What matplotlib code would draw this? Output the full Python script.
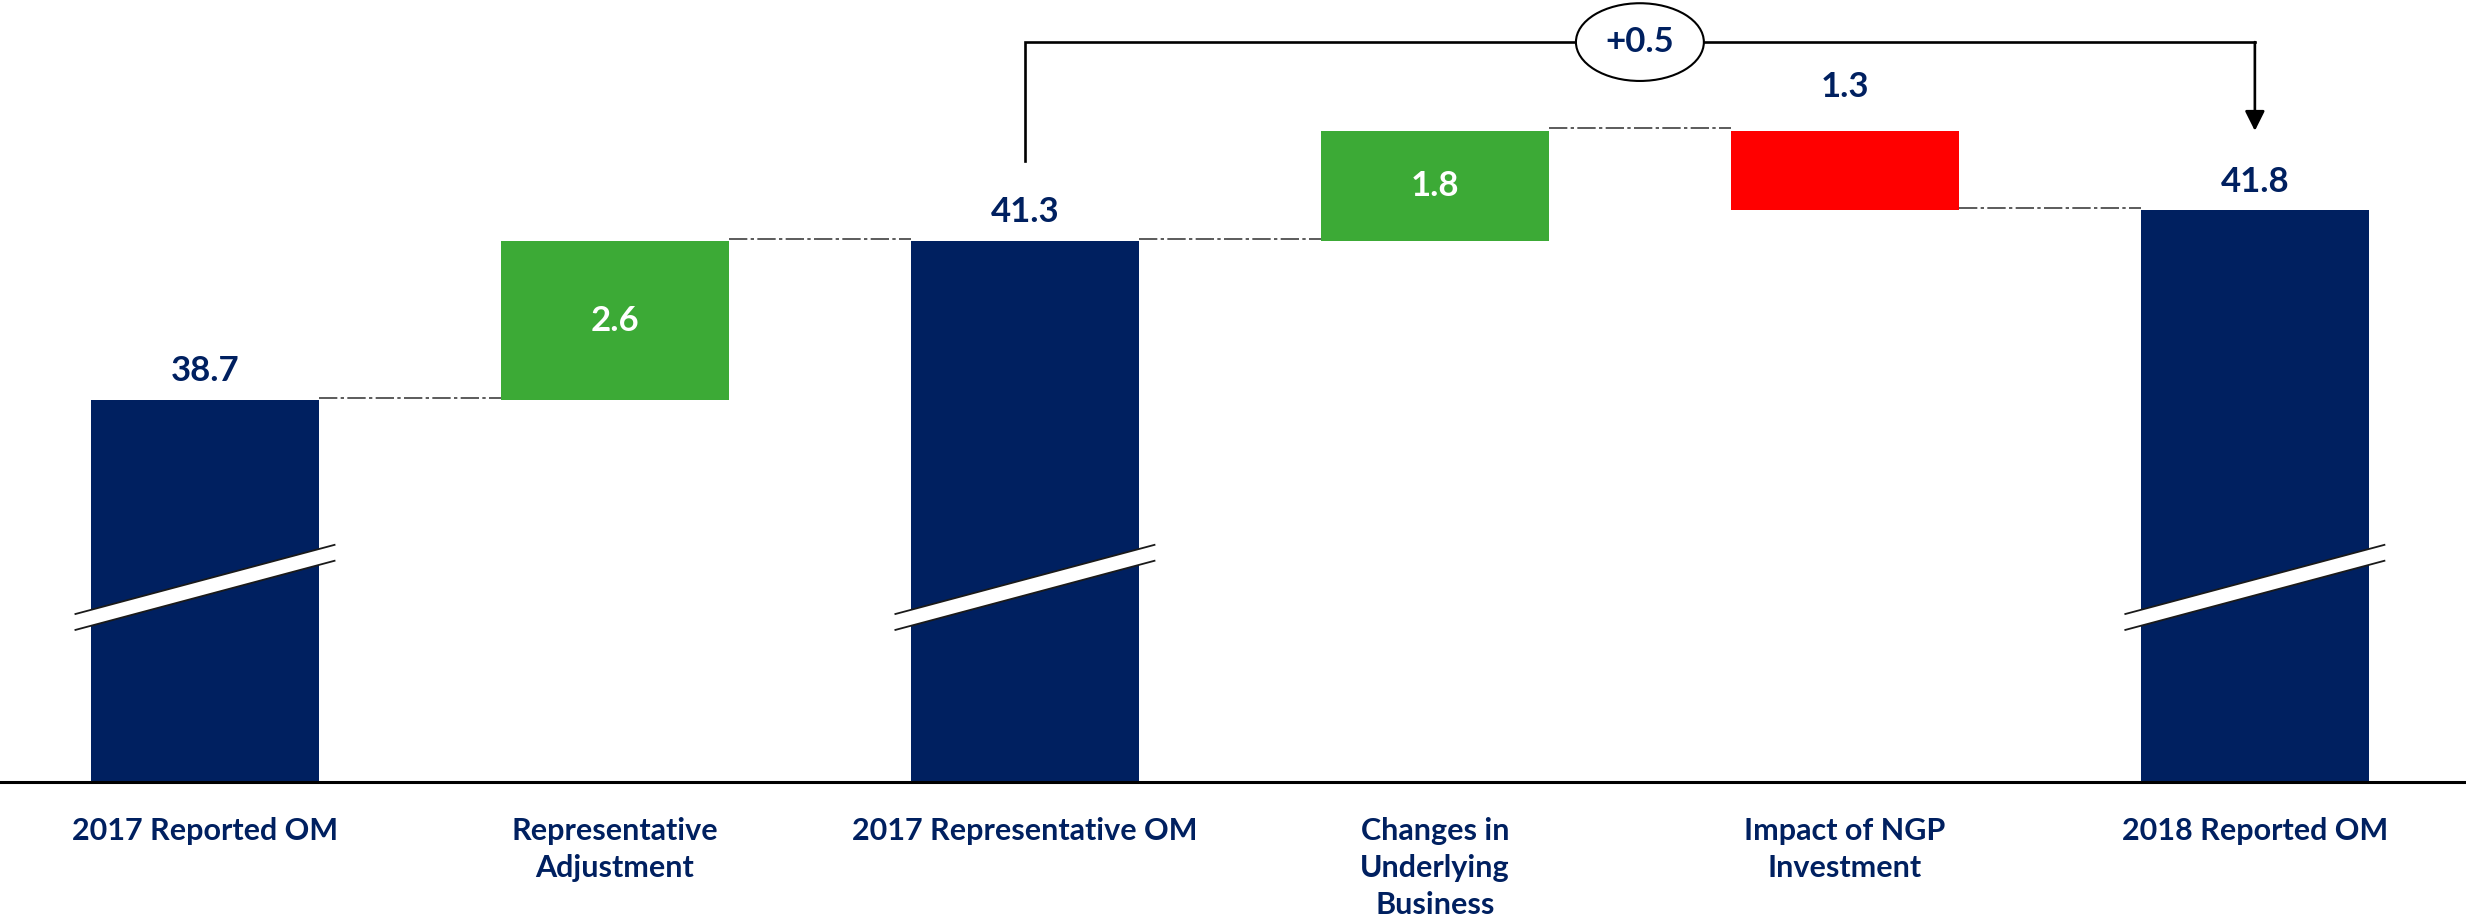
import numpy as np
import matplotlib
matplotlib.use("Agg")
import matplotlib.pyplot as plt
from matplotlib.patches import Ellipse, Polygon

plt.rcParams['font.family'] = ['Lato', 'DejaVu Sans']

# data
categories = ['2017 Reported OM', 'Representative\nAdjustment', '2017 Representative OM',
              'Changes in\nUnderlying\nBusiness', 'Impact of NGP\nInvestment', '2018 Reported OM']
values = [38.7, 2.6, 41.3, 1.8, -1.3, 41.8]
kinds = ['total', 'delta', 'total', 'delta', 'delta', 'total']

navy = '#002060'
green = '#3CAA36'
red = '#FF0000'
grey = '#3f3f3f'

y_base = 32.46          # visual floor of the broken axis
px_per_unit = 61.2
bar_w = 0.556

# running totals -> bottoms / tops
bottoms, tops = [], []
run = 0.0
for v, k in zip(values, kinds):
    if k == 'total':
        bottoms.append(y_base)
        tops.append(v)
        run = v
    else:
        lo, hi = sorted([run, run + v])
        bottoms.append(lo)
        tops.append(hi)
        run = run + v

colors = []
for v, k in zip(values, kinds):
    if k == 'total':
        colors.append(navy)
    elif v >= 0:
        colors.append(green)
    else:
        colors.append(red)

fig = plt.figure(figsize=(24.66, 9.19), dpi=100)
ax = fig.add_axes([0, (919 - 782) / 919, 1, 782 / 919])
x = np.arange(len(values))
ax.bar(x, np.array(tops) - np.array(bottoms), bottom=bottoms, width=bar_w,
       color=colors, zorder=2)
ax.set_xlim(-0.5, 5.515)
ax.set_ylim(y_base, y_base + 782 / px_per_unit)

# connectors between bars
run = 0.0
levels = []
for v, k in zip(values, kinds):
    run = v if k == 'total' else run + v
    levels.append(run)
for i in range(len(values) - 1):
    ax.plot([x[i] + bar_w / 2, x[i + 1] - bar_w / 2], [levels[i] + 0.04] * 2,
            color=grey, lw=1.2, linestyle=(0, (11, 2, 2, 2)), zorder=1)

# value labels
for i, (v, k) in enumerate(zip(values, kinds)):
    txt = f'{abs(v):.1f}'
    if k == 'total':
        ax.annotate(txt, (x[i], tops[i]), xytext=(0, 13.5), textcoords='offset points',
                    ha='center', va='baseline', fontsize=25, fontweight='bold', color=navy)
    elif v >= 0:
        ax.text(x[i], (tops[i] + bottoms[i]) / 2, txt, ha='center', va='center',
                fontsize=25, fontweight='bold', color='white', zorder=3)
    else:
        ax.annotate(txt, (x[i], tops[i]), xytext=(0, 24), textcoords='offset points',
                    ha='center', va='baseline', fontsize=25, fontweight='bold', color=navy)

# axis break marks on the total bars
half = 0.316
rise = 1.13
gap = 0.13
brk_mid = 35.64
for i, k in enumerate(kinds):
    if k != 'total':
        continue
    xl, xr = x[i] - half, x[i] + half
    yl, yr = brk_mid - rise / 2, brk_mid + rise / 2
    poly = Polygon([[xl, yl + gap], [xr, yr + gap], [xr, yr - gap], [xl, yl - gap]],
                   closed=True, facecolor='white', edgecolor='none', zorder=4)
    ax.add_patch(poly)
    ax.plot([xl, xr], [yl + gap, yr + gap], color='#1a1a1a', lw=1.3, zorder=5)
    ax.plot([xl, xr], [yl - gap, yr - gap], color='#1a1a1a', lw=1.3, zorder=5)

# bracket from 2017 representative to 2018 reported
i0, i1 = 2, 5
y_top = max(levels) + 1.45
ax.plot([x[i0], x[i0], x[i1]], [values[i0] + 1.3, y_top, y_top], color='black',
        lw=1.9, solid_joinstyle='miter', zorder=3, clip_on=False)
ax.annotate('', xy=(x[i1], values[i1] + 1.3), xytext=(x[i1], y_top),
            arrowprops=dict(arrowstyle='-|>,head_length=0.6,head_width=0.3', color='black',
                            lw=1.9, shrinkA=0, shrinkB=0, mutation_scale=20), zorder=3)
diff = values[i1] - values[i0]
ax.add_patch(Ellipse((3.5, y_top), width=0.312, height=1.27, facecolor='white',
                     edgecolor='black', lw=1.5, zorder=4, clip_on=False))
ax.text(3.5, y_top, f'{diff:+.1f}', ha='center', va='center', fontsize=25,
        fontweight='bold', color=navy, zorder=5)

# axes styling
for s in ['top', 'left', 'right']:
    ax.spines[s].set_visible(False)
ax.spines['bottom'].set_linewidth(2.2)
ax.spines['bottom'].set_color('black')
ax.spines['bottom'].set_zorder(6)
ax.set_yticks([])
ax.set_xticks(x)
ax.set_xticklabels(categories, fontsize=22, fontweight='bold', color=navy, linespacing=1.4)
ax.tick_params(axis='x', length=0, pad=25)

fig.savefig('out.png', dpi=100)
